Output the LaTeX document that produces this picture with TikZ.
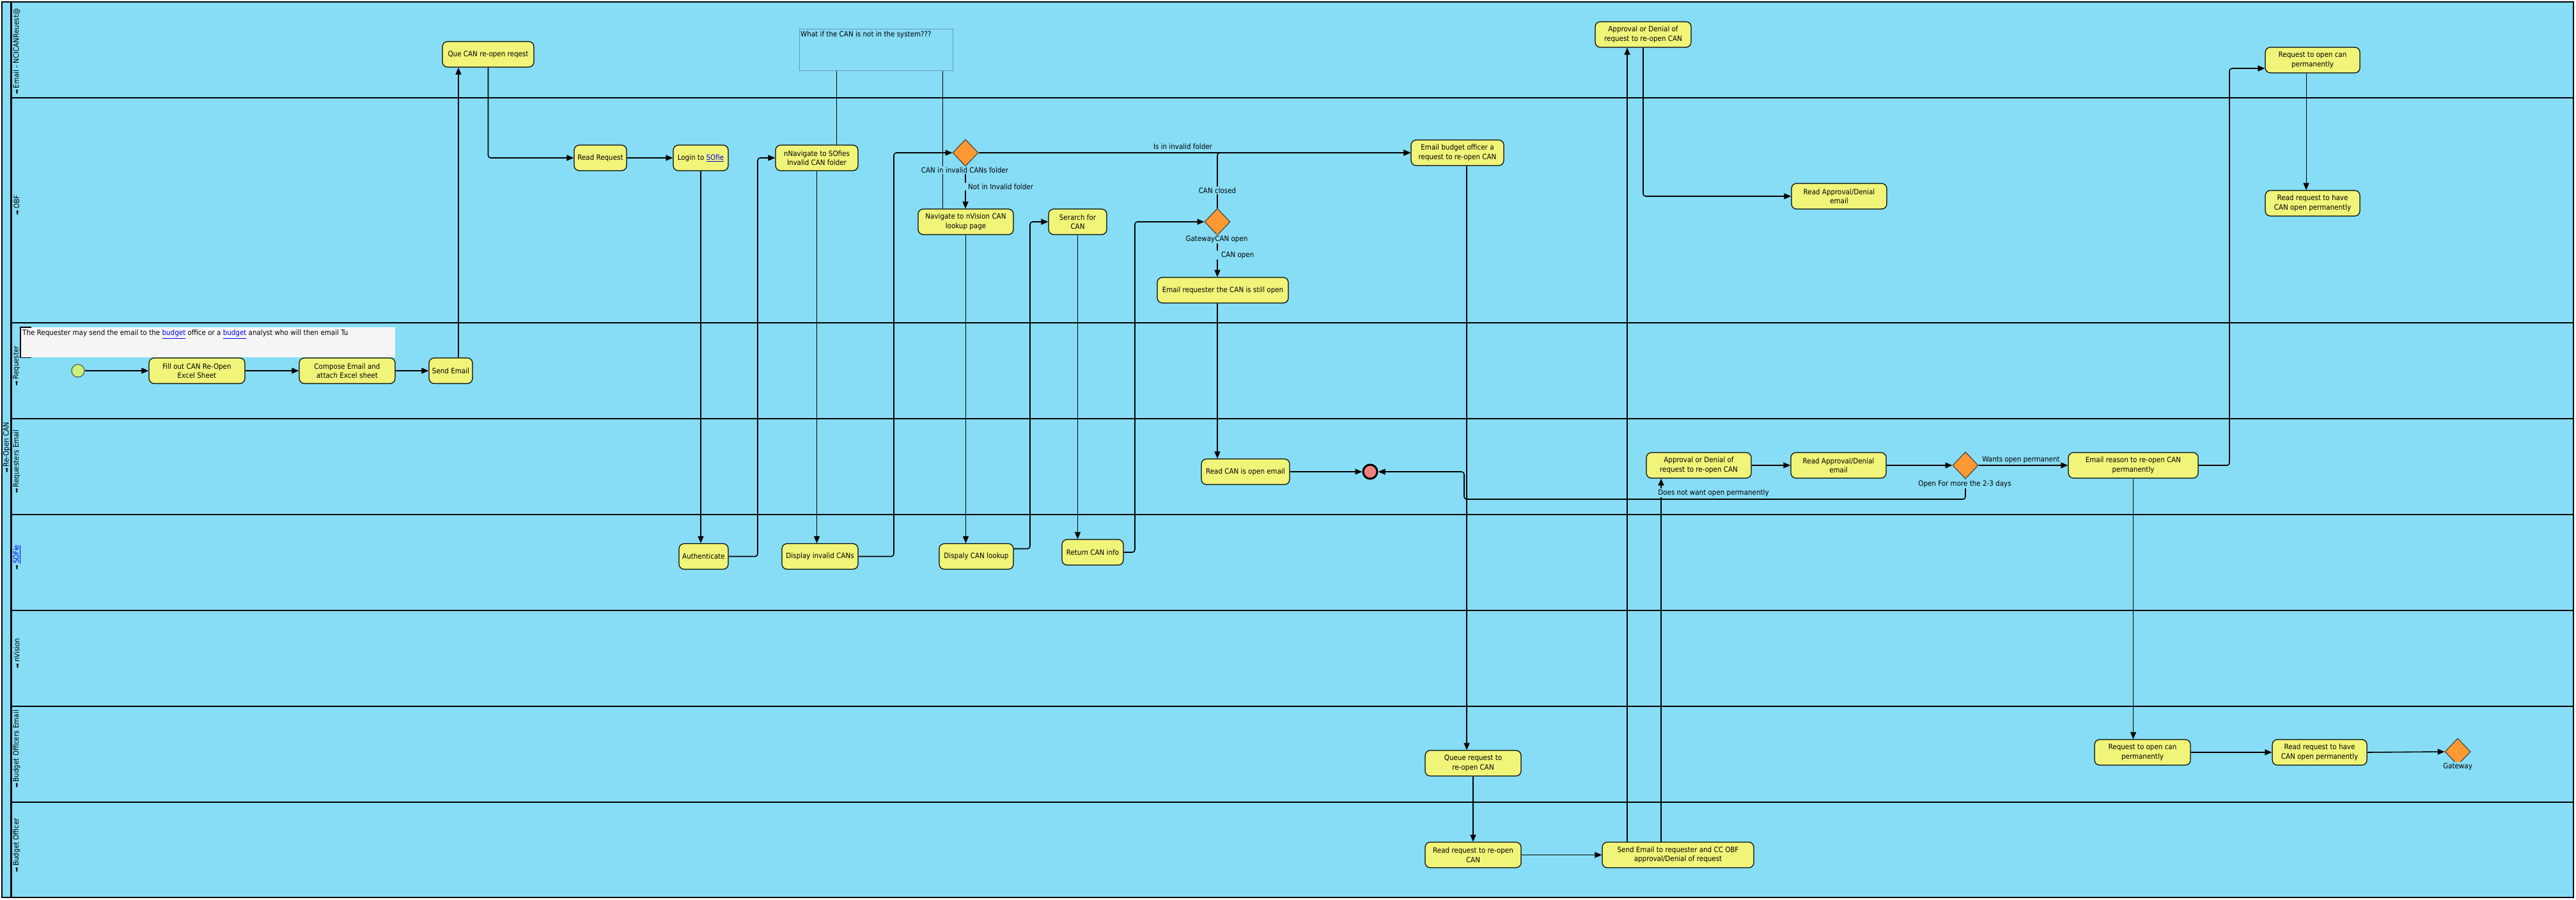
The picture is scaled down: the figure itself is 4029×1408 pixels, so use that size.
\documentclass[tikz,border=0pt]{standalone}
\usepackage{fontspec}
\setmainfont{DejaVu Sans Condensed}
\newfontfamily\symf{DejaVu Sans}
\usetikzlibrary{shapes.geometric,arrows.meta}

\definecolor{lanebg}{RGB}{135,221,245}
\definecolor{taskfill}{RGB}{240,245,122}
\definecolor{gatefill}{RGB}{255,153,51}
\definecolor{startfill}{RGB}{204,240,122}
\definecolor{endfill}{RGB}{240,128,128}
\definecolor{notefill}{RGB}{245,245,245}
\definecolor{noteline}{RGB}{100,150,185}
\definecolor{linkblue}{RGB}{0,0,238}

\newcommand{\lnk}[1]{\textcolor{linkblue}{\underline{#1}}}
\newcommand{\lanemark}{{\symf\fontsize{9}{9}\selectfont ➡}\,}

\tikzset{
  task/.style={draw=black, line width=1.2pt, fill=taskfill, rounded corners=8pt,
    align=center, inner sep=0pt, minimum height=40pt,
    font=\fontsize{11.5}{14.5}\selectfont},
  gate/.style={diamond, draw=black!80, line width=1pt, fill=gatefill,
    minimum width=40pt, minimum height=42pt, inner sep=0pt},
  flow/.style={line width=1.6pt, rounded corners=4pt,
    -{Triangle[length=11pt,width=9pt]}},
  assoc/.style={line width=1pt},
  lbl/.style={fill=lanebg, inner sep=1.5pt, font=\fontsize{11.5}{13}\selectfont},
  lanelbl/.style={rotate=90, inner sep=0pt, font=\fontsize{11.5}{13}\selectfont},
  laneline/.style={line width=2.2pt}
}

\begin{document}
\begin{tikzpicture}[x=1pt,y=-1pt]
\useasboundingbox (0,0) rectangle (4029,1408);

% pool and lanes
\draw[line width=2pt, fill=lanebg] (3,3) rectangle (4025,1404);
\draw[line width=3pt] (17,3) -- (17,1404);
\foreach \yy in {153,505,655,805,955,1105,1255}
  \draw[laneline] (17,\yy) -- (4025,\yy);

\node[lanelbl] (poollbl) at (10.5,700) {\lanemark Re-Open CAN};
\node[lanelbl, anchor=west] (lane1) at (26,148) {\lanemark Email - NCICANReuest@};
\node[lanelbl] (lane2) at (26,321) {\lanemark OBF};
\node[lanelbl] (lane3) at (26,572) {\lanemark Requester};
\node[lanelbl] (lane4) at (26,722) {\lanemark Requesters Email};
\node[lanelbl] (lane5) at (26,872) {\lanemark \lnk{SOFie}};
\node[lanelbl] (lane6) at (26,1022) {\lanemark nVision};
\node[lanelbl] (lane7) at (26,1172) {\lanemark Budget Officers Email};
\node[lanelbl] (lane8) at (26,1322) {\lanemark Budget Officer};

% annotations
\node[fill=notefill, inner sep=0pt, minimum width=586pt, minimum height=47pt,
      anchor=north west] (reqnote) at (32,512) {};
\draw[line width=1.2pt] ([xshift=17pt]reqnote.north west) -- (reqnote.north west)
      -- (reqnote.south west) -- ([xshift=17pt]reqnote.south west);
\node[anchor=north west, inner sep=0pt, font=\fontsize{11.5}{13}\selectfont]
  (reqnotetxt) at (35,516)
  {The Requester may send the email to the \lnk{budget} office or a \lnk{budget} analyst who will then email Tu};

\node[draw=noteline, line width=1.2pt, inner sep=0pt, minimum width=240pt,
      minimum height=65pt, anchor=north west] (whatif) at (1250,45) {};
\node[anchor=north west, inner sep=0pt, font=\fontsize{11.5}{13}\selectfont]
  (whatiftxt) at (1252,49) {What if the CAN is not in the system???};

% events
\node[circle, draw=black!75, line width=1pt, fill=startfill, minimum size=20pt,
      inner sep=0pt] (start) at (122,580) {};
\node[circle, draw=black, line width=3pt, fill=endfill, minimum size=22pt,
      inner sep=0pt] (endev) at (2143,738) {};

% tasks
\node[task, minimum width=143pt] (que) at (763.5,85) {Que CAN re-open reqest};
\node[task, minimum width=82pt] (readreq) at (939,247) {Read Request};
\node[task, minimum width=86pt] (login) at (1096,247) {Login to \lnk{SOfie}};
\node[task, minimum width=129pt] (nnav) at (1277.5,247) {nNavigate to SOfies\\Invalid CAN folder};
\node[task, minimum width=149pt] (navnv) at (1510.5,347) {Navigate to nVision CAN\\lookup page};
\node[task, minimum width=91pt] (search) at (1685.5,347) {Serarch for\\CAN};
\node[task, minimum width=205pt] (emailreq) at (1912.5,454) {Email requester the CAN is still open};
\node[task, minimum width=145pt] (emailbo) at (2279.5,239) {Email budget officer a\\request to re-open CAN};
\node[task, minimum width=150pt] (apprl1) at (2570,54) {Approval or Denial of\\request to re-open CAN};
\node[task, minimum width=149pt] (readapprobf) at (2876.5,307) {Read Approval/Denial\\email};
\node[task, minimum width=148pt] (reqperm1) at (3617,94) {Request to open can\\permanently};
\node[task, minimum width=148pt] (readpermobf) at (3617,318) {Read request to have\\CAN open permanently};

\node[task, minimum width=150pt] (fill) at (308,580) {Fill out CAN Re-Open\\Excel Sheet};
\node[task, minimum width=150pt] (compose) at (543,580) {Compose Email and\\attach Excel sheet};
\node[task, minimum width=68pt] (sendemail) at (705,580) {Send Email};

\node[task, minimum width=138pt] (readopen) at (1948,738) {Read CAN is open email};
\node[task, minimum width=164pt] (apprreq) at (2657,728) {Approval or Denial of\\request to re-open CAN};
\node[task, minimum width=149pt] (readapprreq) at (2875.5,728) {Read Approval/Denial\\email};
\node[task, minimum width=203pt] (emailreason) at (3336.5,728) {Email reason to re-open CAN\\permanently};

\node[task, minimum width=77pt] (auth) at (1100.5,870.5) {Authenticate};
\node[task, minimum width=119pt] (dispinv) at (1282.5,870.5) {Display invalid CANs};
\node[task, minimum width=116pt] (displookup) at (1527,870.5) {Dispaly CAN lookup};
\node[task, minimum width=96pt] (retinfo) at (1709,864) {Return CAN info};

\node[task, minimum width=150pt] (queue) at (2304,1194) {Queue request to\\re-open CAN};
\node[task, minimum width=150pt] (reqperm2) at (3351,1177) {Request to open can\\permanently};
\node[task, minimum width=148pt] (readperm2) at (3628,1177) {Read request to have\\CAN open permanently};

\node[task, minimum width=150pt] (readreopen) at (2304,1337.5) {Read request to re-open\\CAN};
\node[task, minimum width=237pt] (sendreq) at (2624.5,1337.5) {Send Email to requester and CC OBF\\approval/Denial of request};

% gateways
\node[gate] (g1) at (1510,239) {};
\node[gate] (g2) at (1904,347) {};
\node[gate] (g3) at (3074,728) {};
\node[gate] (g4) at (3844,1176) {};

% bend positions of the connectors
\coordinate (kSE) at (717,0);
\coordinate (kAu) at (1185,0);
\coordinate (kDi) at (1398,0);
\coordinate (kDl) at (1611,0);
\coordinate (kRi) at (1775,0);
\coordinate (kEB) at (2294,0);
\coordinate (kS1) at (2545,0);
\coordinate (kS2) at (2598,0);
\coordinate (kLoop) at (2290,781);
\coordinate (kEr) at (3487,107);
\coordinate (kRp) at (3607,0);
\coordinate (kN1) at (1308,0);
\coordinate (kN2) at (1474,0);

% associations
\draw[assoc] (whatif.south -| kN1) -- (nnav.north -| kN1);
\draw[assoc] (whatif.south -| kN2) -- (navnv.north -| kN2);

% sequence flows
\draw[flow] (start.east) -- (fill.west);
\draw[flow] (fill.east) -- (compose.west);
\draw[flow] (compose.east) -- (sendemail.west);
\draw[flow] (sendemail.north -| kSE) -- (que.south -| kSE);
\draw[flow] (que.south) |- (readreq.west);
\draw[flow] (readreq.east) -- (login.west);
\draw[flow] (login.south) -- (login.south |- auth.north);
\draw[flow] (auth.east) -| (kAu |- nnav.west) -- (nnav.west);
\draw[flow] (nnav.south) -- (nnav.south |- dispinv.north);
\draw[flow] (dispinv.east) -| (kDi |- g1.west) -- (g1.west);
\draw[flow] (g1.south) -- (navnv.north -| g1);
\draw[flow] (g1.east) -- (emailbo.west);
\draw[flow] (navnv.south) -- (navnv.south |- displookup.north);
\draw[flow] ([yshift=12pt]displookup.east) -| (kDl |- search.west) -- (search.west);
\draw[flow] (search.south) -- (search.south |- retinfo.north);
\draw[flow] (retinfo.east) -| (kRi |- g2.west) -- (g2.west);
\draw[flow] (g2.north) |- (emailbo.west);
\draw[flow] (g2.south) -- (g2.south |- emailreq.north);
\draw[flow] (emailreq.south -| g2) -- (readopen.north -| g2);
\draw[flow] (readopen.east) -- (endev.west);
\draw[flow] (emailbo.south -| kEB) -- (queue.north -| kEB);
\draw[flow] (queue.south) -- (readreopen.north);
\draw[flow] (readreopen.east) -- (sendreq.west);
\draw[flow] (sendreq.north -| kS1) -- (apprl1.south -| kS1);
\draw[flow] (sendreq.north -| kS2) -- (apprreq.south -| kS2);
\draw[flow] (apprl1.south) |- (readapprobf.west);
\draw[flow] (apprreq.east) -- (readapprreq.west);
\draw[flow] (readapprreq.east) -- (g3.west);
\draw[flow] (g3.east) -- (emailreason.west);
\draw[flow] (g3.south) |- (kLoop) -- (kLoop |- endev.east) -- (endev.east);
\draw[flow] (emailreason.east) -| (kEr) -- (reqperm1.west |- kEr);
\draw[flow, line width=1pt] (reqperm1.south -| kRp) -- (readpermobf.north -| kRp);
\draw[flow] (emailreason.south) -- (emailreason.south |- reqperm2.north);
\draw[flow] (reqperm2.east) -- (readperm2.west);
\draw[flow] (readperm2.east) -- (g4.west);

% gateway names and flow conditions
\node[lbl] (g1name) at (1509,266) {CAN in invalid CANs folder};
\node[lbl] (g2name) at (1903,374) {GatewayCAN open};
\node[lbl] (g3name) at (3073,757) {Open For more the 2-3 days};
\node[lbl] (g4name) at (3844,1199) {Gateway};
\node[lbl, anchor=west, inner xsep=8pt] (cNot) at (1506,292) {Not in Invalid folder};
\node[lbl] (cIs) at (1850,229) {Is in invalid folder};
\node[lbl] (cClosed) at (1904,298) {CAN closed};
\node[lbl, anchor=west, inner xsep=8pt] (cOpen) at (1902,399) {CAN open};
\node[lbl] (cWants) at (3161,719) {Wants open permanent};
\node[lbl] (cNotWant) at (2680,771) {Does not want open permanently};
\end{tikzpicture}
\end{document}
